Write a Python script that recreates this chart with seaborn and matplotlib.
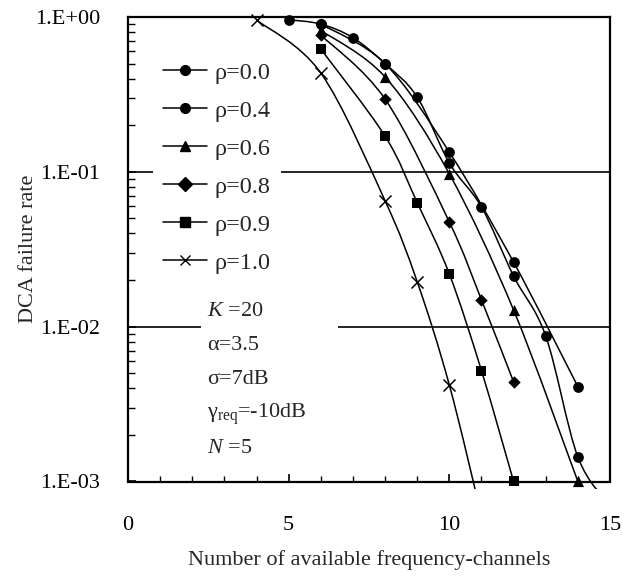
import numpy as np
import matplotlib
matplotlib.use('Agg')
import matplotlib.pyplot as plt
import seaborn as sns
from matplotlib.path import Path
from matplotlib.patches import PathPatch, Rectangle
from matplotlib.lines import Line2D

# values
x_r00 = [5, 6, 7, 8, 9, 10, 11, 12, 13, 14, 15]
y_r00 = [0.96, 0.90, 0.735, 0.50, 0.304, 0.114, 0.0593, 0.0212, 0.0087, 0.00144, 0.0007]
x_r04 = [6, 8, 10, 12, 14]
y_r04 = [0.90, 0.50, 0.134, 0.0261, 0.0041]
x_r06 = [6, 8, 10, 12, 14]
y_r06 = [0.82, 0.41, 0.097, 0.0128, 0.001]
x_r08 = [6, 8, 10, 11, 12]
y_r08 = [0.765, 0.295, 0.0474, 0.0149, 0.0044]
x_r09 = [6, 8, 9, 10, 11, 12]
y_r09 = [0.621, 0.170, 0.0632, 0.0219, 0.0052, 0.001]
x_r10 = [4, 6, 8, 9, 10, 11]
y_r10 = [0.956, 0.435, 0.065, 0.0195, 0.0042, 0.0006]

labels = ['ρ=0.0', 'ρ=0.4', 'ρ=0.6', 'ρ=0.8', 'ρ=0.9', 'ρ=1.0']
markers = ['o', 'o', '^', 'D', 's', 'x']
msizes = [60, 60, 65, 40, 50, 75]
series = [(x_r00, y_r00), (x_r04, y_r04), (x_r06, y_r06),
          (x_r08, y_r08), (x_r09, y_r09), (x_r10, y_r10)]

params = [r'$K$ =20', 'α=3.5', 'σ=7dB', r'$\mathrm{γ}_\mathrm{req}$=-10dB', r'$N$ =5']

sns.set_theme(style='white')
plt.rcParams['font.family'] = ['Liberation Serif', 'DejaVu Serif']
plt.rcParams['mathtext.fontset'] = 'custom'
plt.rcParams['mathtext.rm'] = 'Liberation Serif'
plt.rcParams['mathtext.it'] = 'Liberation Serif:italic'


def smooth_path(xs, ys):
    # Excel style smoothed line: cubic bezier through the points (log y space)
    p = np.column_stack([np.array(xs, float), np.log10(ys)])
    pts = np.vstack([p[0], p, p[-1]])
    verts = [p[0]]
    codes = [Path.MOVETO]
    for i in range(1, len(pts) - 2):
        c1 = pts[i] + (pts[i + 1] - pts[i - 1]) / 6
        c2 = pts[i + 1] - (pts[i + 2] - pts[i]) / 6
        verts += [c1, c2, pts[i + 1]]
        codes += [Path.CURVE4] * 3
    verts = np.array(verts)
    verts[:, 1] = 10 ** verts[:, 1]
    return Path(verts, codes)


fig = plt.figure(figsize=(6.36, 5.77), dpi=100)
ax = fig.add_axes([128 / 636, 95.5 / 577, 482 / 636, 464.5 / 577])
ax.set_yscale('log')
ax.set_xlim(0, 15)
ax.set_ylim(1e-3, 1)

# grid lines at 1E-01 and 1E-02
for g in [1e-1, 1e-2]:
    ax.axhline(g, color='black', lw=1.2, zorder=1)

clip = Rectangle((0, -0.016), 1, 1.03, transform=ax.transAxes, visible=False)
ax.add_patch(clip)

for (xs, ys), m, s in zip(series, markers, msizes):
    patch = PathPatch(smooth_path(xs, ys), facecolor='none', edgecolor='black',
                      lw=1.1, zorder=2, transform=ax.transData)
    ax.add_patch(patch)
    patch.set_clip_path(clip)
    xv = [a for a, b in zip(xs, ys) if b >= 1e-3]
    yv = [b for b in ys if b >= 1e-3]
    if m == 'x':
        sns.scatterplot(x=xv, y=yv, marker=m, s=s, color='black', linewidth=1.1,
                        ax=ax, zorder=3, clip_on=False)
    else:
        sns.scatterplot(x=xv, y=yv, marker=m, s=s, color='black', edgecolor='black',
                        linewidth=0, ax=ax, zorder=3, clip_on=False)

ax.set_xticks([0, 5, 10, 15])
ax.set_xticks(range(0, 16), minor=True)
ax.set_yticks([1e-3, 1e-2, 1e-1, 1])
ax.set_yticklabels(['1.E-03', '1.E-02', '1.E-01', '1.E+00'])
ax.tick_params(axis='both', which='both', direction='in', labelsize=16, colors='black')
ax.tick_params(axis='x', which='major', length=6, width=1.2, pad=25)
ax.tick_params(axis='x', which='minor', length=4, width=1.0)
ax.tick_params(axis='y', which='major', length=6, width=1.2, pad=20)
ax.tick_params(axis='y', which='minor', length=5, width=1.0)
ax.yaxis.set_minor_formatter(matplotlib.ticker.NullFormatter())
ax.xaxis.set_ticks_position('bottom')
ax.yaxis.set_ticks_position('left')
for sp in ax.spines.values():
    sp.set_color('black')
    sp.set_linewidth(1.6)

ax.set_xlabel('Number of available frequency-channels', fontsize=16, labelpad=11)
ax.set_ylabel('DCA failure rate', fontsize=16, labelpad=-2)

handles = [Line2D([], [], color='black', lw=1.1, marker=m,
                  markersize=7 if m != 'x' else 7.5, markeredgewidth=1.0)
           for m in markers]
leg = ax.legend(handles, labels, loc='upper left', bbox_to_anchor=(0.052, 0.925),
                borderaxespad=0, frameon=True, fontsize=17.5, handlelength=1.8,
                handletextpad=0.34, labelspacing=0.66, borderpad=0.4)
leg.get_frame().set_facecolor('white')
leg.get_frame().set_edgecolor('none')
leg.get_frame().set_alpha(1)
leg.set_zorder(5)

ax.add_patch(Rectangle((0.151, 0.035), 0.285, 0.375, transform=ax.transAxes,
                       facecolor='white', edgecolor='none', zorder=4))
for i, t in enumerate(params):
    ax.text(0.164, 0.357 - i * 0.0737, t, transform=ax.transAxes, fontsize=16,
            va='baseline', ha='left', zorder=6)

fig.savefig('out.png', dpi=100)
